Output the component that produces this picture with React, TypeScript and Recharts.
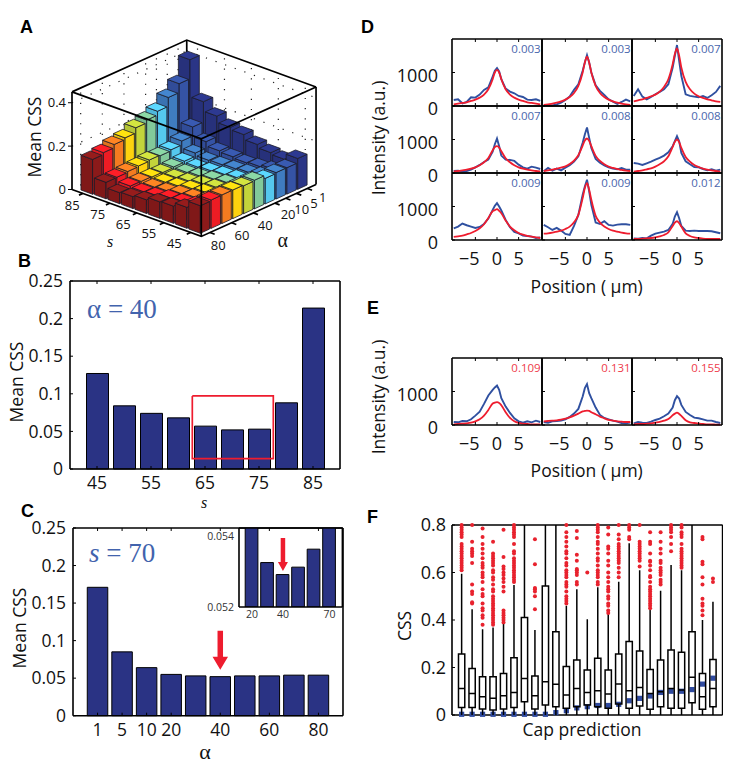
import {
  Bar,
  BarChart,
  Line,
  LineChart,
  ReferenceDot,
  Scatter,
  ScatterChart,
  XAxis,
  YAxis,
} from 'recharts';

const FONT = '"Open Sans", sans-serif';
const SERIF = '"Liberation Serif", serif';
const NAVY = '#2a3384';
const BLUE = '#2f50a0';
const RED = '#ee1c2e';

// panel A, rows are s, columns follow alphaValues
const sValues = [45, 50, 55, 60, 65, 70, 75, 80, 85];
const alphaValues = [1, 5, 10, 20, 30, 40, 50, 60, 70, 80];
const alphaColors = ['#2a3586', '#3553a5', '#3f7cc0', '#55c8ee', '#82c99a', '#c3d43b', '#fdd20e', '#f47b20', '#ed1c24', '#8b1a1a'];
const css45 = [0.14, 0.12, 0.12, 0.116, 0.13, 0.127, 0.13, 0.13, 0.129, 0.125];
const css50 = [0.114, 0.09, 0.085, 0.085, 0.084, 0.084, 0.084, 0.085, 0.085, 0.095];
const css55 = [0.122, 0.08, 0.075, 0.072, 0.073, 0.074, 0.074, 0.074, 0.075, 0.078];
const css60 = [0.137, 0.075, 0.07, 0.066, 0.067, 0.068, 0.068, 0.068, 0.07, 0.075];
const css65 = [0.16, 0.08, 0.066, 0.06, 0.058, 0.057, 0.057, 0.057, 0.058, 0.062];
const css70 = [0.171, 0.085, 0.064, 0.055, 0.053, 0.052, 0.053, 0.053, 0.054, 0.054];
const css75 = [0.2, 0.105, 0.075, 0.06, 0.056, 0.053, 0.055, 0.057, 0.058, 0.05];
const css80 = [0.244, 0.15, 0.108, 0.09, 0.085, 0.088, 0.083, 0.08, 0.076, 0.075];
const css85 = [0.415, 0.327, 0.286, 0.245, 0.227, 0.214, 0.19, 0.182, 0.167, 0.158];
const cssRows = [css45, css50, css55, css60, css65, css70, css75, css80, css85];

// panel B
const alpha40Css = [0.127, 0.084, 0.074, 0.068, 0.057, 0.052, 0.053, 0.088, 0.214];
const boxS = [62.65, 77.65, 77.65, 62.65, 62.65];
const boxCss = [0.0972, 0.0972, 0.0137, 0.0137, 0.0972];

// panel C and its inset
const s70Css = [0.171, 0.085, 0.064, 0.055, 0.053, 0.052, 0.053, 0.053, 0.054, 0.054];
const insetAlpha = [20, 30, 40, 50, 60, 70];
const insetCss = [0.0546, 0.05326, 0.05292, 0.05313, 0.05364, 0.0546];

// panels D and E
const positions = [-10, -9, -8, -7, -6, -5, -4, -3, -2, -1, -0.5, 0, 0.5, 1, 2, 3, 4, 5, 6, 7, 8, 9, 10];
const d1Blue = [180, 200, 80, 120, 260, 250, 340, 480, 560, 880, 1050, 1130, 1030, 800, 520, 430, 380, 300, 270, 190, 180, 200, 150];
const d1Red = [50, 70, 90, 110, 150, 190, 250, 340, 500, 800, 1000, 1080, 1000, 800, 500, 340, 250, 190, 150, 110, 90, 70, 50];
const d2Blue = [20, 20, 20, 50, 100, 180, 280, 480, 650, 1050, 1300, 1520, 1300, 1000, 620, 450, 330, 200, 130, 60, 120, 190, 140];
const d2Red = [30, 50, 70, 100, 140, 190, 270, 390, 600, 1000, 1300, 1470, 1300, 1000, 600, 390, 270, 190, 140, 100, 70, 50, 30];
const d3Blue = [300, 500, 280, 200, 270, 350, 420, 500, 650, 1150, 1500, 1820, 1350, 900, 350, 300, 280, 260, 300, 240, 320, 420, 600];
const d3Red = [140, 170, 200, 240, 290, 340, 430, 570, 800, 1250, 1550, 1720, 1500, 1150, 720, 500, 370, 290, 240, 200, 170, 140, 120];
const d4Blue = [60, 70, 50, 60, 100, 170, 240, 330, 400, 640, 860, 1030, 800, 520, 400, 390, 360, 250, 170, 130, 190, 160, 120];
const d4Red = [50, 60, 80, 100, 130, 170, 230, 320, 450, 680, 770, 800, 760, 650, 440, 320, 230, 170, 130, 100, 80, 60, 50];
const d5Blue = [50, 150, 70, 130, 80, 160, 230, 340, 500, 900, 1150, 1360, 1050, 750, 420, 310, 230, 170, 130, 110, 150, 100, 100];
const d5Red = [60, 80, 100, 130, 160, 200, 270, 370, 530, 820, 970, 1030, 960, 800, 510, 360, 260, 190, 150, 120, 90, 70, 60];
const d6Blue = [300, 280, 240, 290, 340, 400, 450, 520, 620, 800, 950, 1100, 950, 600, 350, 260, 180, 170, 120, 80, 110, 70, 100];
const d6Red = [40, 60, 80, 110, 140, 190, 260, 350, 500, 780, 930, 1000, 920, 750, 480, 340, 240, 180, 130, 100, 80, 60, 40];
const d7Blue = [350, 400, 490, 440, 400, 360, 390, 480, 640, 900, 1020, 1100, 1000, 880, 600, 380, 240, 200, 130, 120, 100, 60, 80];
const d7Red = [90, 110, 130, 170, 210, 270, 350, 470, 660, 860, 890, 920, 870, 800, 580, 400, 290, 210, 160, 120, 100, 80, 60];
const d8Blue = [450, 380, 300, 360, 280, 180, 150, 420, 750, 1350, 1600, 1800, 1450, 1050, 520, 480, 560, 450, 430, 460, 470, 470, 450];
const d8Red = [190, 200, 220, 250, 280, 330, 400, 530, 750, 1250, 1550, 1700, 1500, 1200, 720, 520, 400, 330, 280, 250, 220, 200, 190];
const d9Blue = [50, 40, 60, 50, 130, 190, 220, 250, 300, 480, 700, 830, 650, 420, 280, 270, 280, 270, 270, 270, 260, 230, 200];
const d9Red = [30, 30, 40, 50, 60, 80, 110, 150, 230, 420, 520, 560, 500, 400, 200, 120, 80, 60, 40, 30, 30, 30, 30];
const e1Blue = [90, 80, 120, 110, 170, 280, 400, 630, 880, 1050, 1120, 1180, 1050, 800, 550, 360, 200, 110, 70, 110, 80, 130, 90];
const e1Red = [20, 30, 40, 50, 70, 110, 170, 280, 450, 640, 670, 680, 660, 590, 380, 210, 110, 60, 40, 30, 20, 20, 20];
const e2Blue = [90, 70, 110, 120, 130, 170, 240, 340, 480, 850, 1100, 1220, 950, 800, 520, 300, 210, 170, 130, 100, 60, 50, 70];
const e2Red = [110, 120, 130, 140, 160, 190, 230, 280, 340, 410, 420, 430, 420, 380, 320, 250, 200, 150, 130, 110, 100, 90, 90];
const e3Blue = [50, 90, 70, 60, 100, 150, 190, 260, 340, 520, 740, 860, 790, 600, 390, 300, 220, 200, 170, 130, 130, 90, 60];
const e3Red = [20, 30, 30, 40, 50, 70, 90, 130, 180, 290, 340, 370, 330, 270, 140, 80, 60, 40, 30, 20, 20, 10, 10];
const dBlue = [d1Blue, d2Blue, d3Blue, d4Blue, d5Blue, d6Blue, d7Blue, d8Blue, d9Blue];
const dRed = [d1Red, d2Red, d3Red, d4Red, d5Red, d6Red, d7Red, d8Red, d9Red];
const dScores = ['0.003', '0.003', '0.007', '0.007', '0.008', '0.008', '0.009', '0.009', '0.012'];
const eBlue = [e1Blue, e2Blue, e3Blue];
const eRed = [e1Red, e2Red, e3Red];
const eScores = ['0.109', '0.131', '0.155'];

// panel F, one entry per box
const boxQ1 = [0.032, 0.032, 0.025, 0.021, 0.025, 0.032, 0.056, 0.025, 0.042, 0.035, 0.028, 0.035, 0.042, 0.035, 0.028, 0.046, 0.028, 0.038, 0.024, 0.035, 0.028, 0.028, 0.052, 0.024, 0.035];
const boxMedian = [0.112, 0.091, 0.077, 0.07, 0.081, 0.095, 0.154, 0.081, 0.14, 0.129, 0.084, 0.112, 0.095, 0.102, 0.088, 0.13, 0.102, 0.116, 0.091, 0.098, 0.112, 0.105, 0.159, 0.077, 0.112];
const boxQ3 = [0.257, 0.196, 0.161, 0.161, 0.175, 0.241, 0.411, 0.164, 0.543, 0.351, 0.204, 0.232, 0.189, 0.239, 0.189, 0.257, 0.309, 0.269, 0.192, 0.232, 0.274, 0.264, 0.351, 0.175, 0.234];
const boxWhisker = [0.595, 0.445, 0.361, 0.368, 0.383, 0.547, 0.8, 0.358, 0.8, 0.8, 0.46, 0.529, 0.403, 0.538, 0.425, 0.561, 0.723, 0.61, 0.442, 0.523, 0.632, 0.61, 0.8, 0.4, 0.477];
const capPrediction = [0.003, 0.003, 0.003, 0.003, 0.003, 0.003, 0.003, 0.003, 0.003, 0.01, 0.018, 0.03, 0.035, 0.04, 0.04, 0.045, 0.06, 0.07, 0.08, 0.095, 0.1, 0.1, 0.107, 0.13, 0.155];
const boxOutliers = [
  [0.61, 0.62, 0.63, 0.64, 0.65, 0.66, 0.67, 0.68, 0.69, 0.7, 0.71, 0.72, 0.75, 0.76, 0.77, 0.78, 0.79, 0.8],
  [0.8, 0.73, 0.7, 0.69, 0.68, 0.67, 0.64, 0.55, 0.52, 0.51, 0.475, 0.47],
  [0.785, 0.75, 0.72, 0.7, 0.68, 0.66, 0.64, 0.63, 0.62, 0.6, 0.59, 0.58, 0.56, 0.53, 0.51, 0.5, 0.47, 0.45, 0.44, 0.42, 0.41, 0.38],
  [0.73, 0.68, 0.67, 0.66, 0.65, 0.64, 0.63, 0.61, 0.6, 0.58, 0.57, 0.55, 0.53, 0.52, 0.5, 0.49, 0.48, 0.47, 0.46, 0.45, 0.44, 0.43, 0.42, 0.41, 0.4, 0.39, 0.38],
  [0.78, 0.665, 0.625, 0.615, 0.6, 0.59, 0.575, 0.56, 0.54, 0.52, 0.44, 0.43, 0.42, 0.41, 0.4, 0.39],
  [0.8, 0.79, 0.78, 0.77, 0.76, 0.75, 0.72, 0.69, 0.68, 0.66, 0.65, 0.64, 0.63, 0.62, 0.61, 0.6, 0.59, 0.58, 0.57, 0.56],
  [],
  [0.74, 0.635, 0.535, 0.53, 0.52, 0.5, 0.445],
  [],
  [],
  [0.8, 0.77, 0.75, 0.73, 0.71, 0.69, 0.68, 0.66, 0.64, 0.63, 0.61, 0.6, 0.59, 0.58, 0.56, 0.55, 0.54, 0.52, 0.5, 0.49, 0.48, 0.47],
  [0.775, 0.745, 0.675, 0.65, 0.615, 0.61, 0.6, 0.59, 0.56, 0.55],
  [0.6],
  [0.8, 0.79, 0.78, 0.77, 0.75, 0.73, 0.72, 0.7, 0.68, 0.66, 0.65, 0.63, 0.61, 0.6, 0.59, 0.58, 0.56, 0.55],
  [0.79, 0.76, 0.71, 0.7, 0.68, 0.65, 0.63, 0.6, 0.58, 0.56, 0.54, 0.53, 0.52, 0.5, 0.49, 0.47, 0.46, 0.44, 0.43],
  [0.8, 0.76, 0.74, 0.72, 0.71, 0.7, 0.69, 0.68, 0.67, 0.66, 0.65, 0.64, 0.62, 0.6, 0.58],
  [0.8, 0.79, 0.78, 0.75, 0.74],
  [0.8, 0.73, 0.72, 0.71, 0.7, 0.69, 0.68, 0.67, 0.66, 0.65, 0.625],
  [0.77, 0.73, 0.72, 0.68, 0.65, 0.645, 0.63, 0.61, 0.585, 0.58, 0.56, 0.54, 0.53, 0.52, 0.51, 0.5, 0.49, 0.48, 0.47, 0.46, 0.45],
  [0.77, 0.73, 0.7, 0.68, 0.65, 0.64, 0.62, 0.61, 0.6, 0.59, 0.57, 0.56, 0.55],
  [0.8, 0.79, 0.78, 0.77, 0.75, 0.72, 0.69],
  [0.8, 0.79, 0.77, 0.76, 0.75, 0.72, 0.7, 0.69, 0.68, 0.67, 0.66, 0.65, 0.64, 0.63, 0.62],
  [],
  [0.75, 0.74, 0.645, 0.635, 0.58, 0.55, 0.49, 0.47, 0.46, 0.44, 0.42],
  [0.575, 0.56],
];

const tickFont = (fontSize: number) => ({ fontSize, fontFamily: FONT, fill: '#111' });
const axisLine = { stroke: '#000', strokeWidth: 1.6 };
const tickLine = { stroke: '#000', strokeWidth: 1 };
const noLabel = () => '';

// oblique projection for panel A, x in pixels and y in CSS units
const PX_PER_CSS = 220;
const FLOOR_ZERO_Y = 191.7;
const project = (si: number, ai: number, h = 0) => {
  const floorY = 239.3 - 4.96 * (si + 0.8) - 4.96 * (ai + 0.8);
  return {
    x: 201 - 13.5 * (si + 0.8) + 10.85 * (ai + 0.8),
    y: (FLOOR_ZERO_Y - floorY) / PX_PER_CSS + h,
  };
};
const pixelPoint = (x: number, y: number, label: string) => ({ x, y: (FLOOR_ZERO_Y - y) / PX_PER_CSS, label });

const Blank = () => <g />;

function shade(hex: string, k: number) {
  const n = parseInt(hex.slice(1), 16);
  const ch = (v: number) => Math.min(255, Math.round(v * k));
  return `rgb(${ch((n >> 16) & 255)},${ch((n >> 8) & 255)},${ch(n & 255)})`;
}

function BarBox(props: any) {
  const { cx, cy, payload } = props;
  const f = 0.43;
  const a = [-13.5 * f, -4.96 * f];
  const b = [10.85 * f, -4.96 * f];
  const h = payload.css * PX_PER_CSS;
  const front = [cx - a[0] - b[0], cy - a[1] - b[1]];
  const left = [cx + a[0] - b[0], cy + a[1] - b[1]];
  const right = [cx - a[0] + b[0], cy - a[1] + b[1]];
  const back = [cx + a[0] + b[0], cy + a[1] + b[1]];
  const pts = (list: number[][]) => list.map((p) => p.join(',')).join(' ');
  const edge = { stroke: '#1c1c28', strokeWidth: 0.8, strokeLinejoin: 'round' as const };
  return (
    <g>
      <polygon
        points={pts([left, front, [front[0], front[1] + h], [left[0], left[1] + h]])}
        fill={shade(payload.color, 0.92)}
        {...edge}
      />
      <polygon
        points={pts([front, right, [right[0], right[1] + h], [front[0], front[1] + h]])}
        fill={payload.color}
        {...edge}
      />
      <polygon points={pts([left, front, right, back])} fill={shade(payload.color, 1.08)} {...edge} />
    </g>
  );
}

function Label3D(props: any) {
  const { cx, cy, payload } = props;
  return (
    <text x={cx} y={cy} textAnchor="middle" dominantBaseline="central" fontFamily={FONT} fontSize={13} fill="#111">
      {payload.label}
    </text>
  );
}

const barPoints: any[] = [];
for (let si = sValues.length - 1; si >= 0; si--) {
  for (let ai = 0; ai < alphaValues.length; ai++) {
    const css = cssRows[si][ai];
    const p = project(si, alphaValues.length - 1 - ai, css);
    barPoints.push({ ...p, css, color: alphaColors[ai] });
  }
}

const seg = (...points: { x: number; y: number }[]) => points;
const gridSegments = [
  ...[0, 2, 4, 6, 7, 8, 9].map((ai) => seg(project(8.8, ai), project(8.8, ai, 0.45))),
  ...[0, 2, 4, 6, 8].map((si) => seg(project(si, 9.8), project(si, 9.8, 0.45))),
  ...[0.2, 0.4].flatMap((h) => [
    seg(project(8.8, -0.8, h), project(8.8, 9.8, h)),
    seg(project(8.8, 9.8, h), project(-0.8, 9.8, h)),
  ]),
];
const backFrame = [
  seg(project(8.8, -0.8, 0.45), project(8.8, 9.8, 0.45), project(-0.8, 9.8, 0.45)),
  seg(project(8.8, 9.8, 0), project(8.8, 9.8, 0.45)),
  seg(project(8.8, -0.8, 0), project(8.8, -0.8, 0.45)),
  seg(project(-0.8, 9.8, 0), project(-0.8, 9.8, 0.45)),
];
const frontFrame = [
  seg(project(8.8, -0.8, 0.45), project(-0.8, -0.8, 0.45), project(-0.8, 9.8, 0.45)),
  seg(project(-0.8, -0.8, 0), project(-0.8, -0.8, 0.45)),
  seg(project(8.8, -0.8, 0), project(-0.8, -0.8, 0), project(-0.8, 9.8, 0)),
  ...[0, 2, 4, 6, 8].map((si) => seg(project(si, -0.8), project(si, -1.15))),
  ...[0, 2, 4, 6, 7, 8, 9].map((ai) => seg(project(-0.8, ai), project(-1.15, ai))),
];
const sLabels = [45, 55, 65, 75, 85].map((s, i) => pixelPoint(174 - 25.6 * i, 245.7 - 9.68 * i, String(s)));
const alphaLabels = [
  pixelPoint(218, 248, '80'),
  pixelPoint(241.7, 237.7, '60'),
  pixelPoint(265, 227.7, '40'),
  pixelPoint(288, 217, '20'),
  pixelPoint(301.7, 211.7, '10'),
  pixelPoint(314, 205, '5'),
  pixelPoint(322.7, 199, '1'),
];

function Panel3D() {
  const plain = { stroke: '#000', strokeWidth: 1.7 };
  return (
    <div style={{ position: 'absolute', left: 0, top: 0 }}>
      <ScatterChart width={331} height={260} margin={{ top: 35, right: 1, bottom: 15, left: 0 }}>
        <XAxis type="number" dataKey="x" domain={[72, 330]} hide />
        <YAxis
          type="number"
          dataKey="y"
          domain={[-0.2423, 0.7123]}
          ticks={[0, 0.2, 0.4]}
          width={72}
          axisLine={false}
          tickLine={tickLine}
          tickSize={4}
          tickMargin={2}
          tick={tickFont(13)}
        />
        {gridSegments.map((s, i) => (
          <Scatter key={`g${i}`} data={s} shape={Blank} line={{ stroke: '#222', strokeWidth: 1.2, strokeDasharray: '1.2 9' }} isAnimationActive={false} />
        ))}
        {backFrame.map((s, i) => (
          <Scatter key={`b${i}`} data={s} shape={Blank} line={plain} isAnimationActive={false} />
        ))}
        <Scatter data={barPoints} shape={BarBox} isAnimationActive={false} />
        {frontFrame.map((s, i) => (
          <Scatter key={`f${i}`} data={s} shape={Blank} line={plain} isAnimationActive={false} />
        ))}
        <Scatter data={sLabels} shape={Label3D} isAnimationActive={false} />
        <Scatter data={alphaLabels} shape={Label3D} isAnimationActive={false} />
      </ScatterChart>
    </div>
  );
}

// places a chart so that its plot area sits exactly on the given box
const TOP_PAD = 12;
const chartMargin = { top: TOP_PAD - 1, right: 0, bottom: 0, left: 0 };
const Placed = ({ left, top, pad, children }: any) => (
  <div style={{ position: 'absolute', left: left - pad, top: top - TOP_PAD }}>{children}</div>
);

function PanelB() {
  const data = sValues.map((s, i) => ({ s, css: alpha40Css[i] }));
  const box = boxS.map((x, i) => ({ x, y: boxCss[i] }));
  return (
    <>
      <Placed left={70} top={281} pad={45}>
        <BarChart width={45 + 270 + 1} height={TOP_PAD + 188 + 30} data={data} margin={chartMargin}>
          <XAxis type="number" dataKey="s" domain={[40, 90]} ticks={[45, 55, 65, 75, 85]} height={30} axisLine={axisLine} tickLine={tickLine} tickSize={-3} tickMargin={11} tick={tickFont(17.5)} />
          <XAxis xAxisId="top" orientation="top" type="number" dataKey="s" domain={[40, 90]} ticks={[45, 55, 65, 75, 85]} height={1} axisLine={axisLine} tickLine={tickLine} tickSize={-3} tickFormatter={noLabel} />
          <YAxis domain={[0, 0.25]} ticks={[0, 0.05, 0.1, 0.15, 0.2, 0.25]} width={45} axisLine={axisLine} tickLine={tickLine} tickSize={-3} tickMargin={10} tick={tickFont(17.5)} />
          <YAxis yAxisId="right" orientation="right" domain={[0, 0.25]} ticks={[0, 0.05, 0.1, 0.15, 0.2, 0.25]} width={1} axisLine={axisLine} tickLine={tickLine} tickSize={-3} tickFormatter={noLabel} />
          <Bar dataKey="css" fill={NAVY} stroke="#000" strokeWidth={1} barSize={22} isAnimationActive={false} />
        </BarChart>
      </Placed>
      {/* the red box has to lie over the bars, so it gets its own transparent chart */}
      <Placed left={70} top={281} pad={45}>
        <ScatterChart width={45 + 270 + 1} height={TOP_PAD + 188 + 30} margin={{ top: TOP_PAD, right: 1, bottom: 30, left: 45 }}>
          <XAxis type="number" dataKey="x" domain={[40, 90]} hide />
          <YAxis type="number" dataKey="y" domain={[0, 0.25]} hide />
          <Scatter data={box} shape={Blank} line={{ stroke: RED, strokeWidth: 1.7 }} isAnimationActive={false} />
        </ScatterChart>
      </Placed>
    </>
  );
}

const Arrow = (w: number, headW: number, headL: number, len: number) => (props: any) => {
  const { cx, cy } = props;
  const tip = cy;
  const p = [
    [cx - w / 2, tip - len],
    [cx + w / 2, tip - len],
    [cx + w / 2, tip - headL],
    [cx + headW / 2, tip - headL],
    [cx, tip],
    [cx - headW / 2, tip - headL],
    [cx - w / 2, tip - headL],
  ];
  return <polygon points={p.map((q) => q.join(',')).join(' ')} fill={RED} />;
};

function PanelC() {
  const data = alphaValues.map((alpha, i) => ({ alpha, css: s70Css[i] }));
  const ticks = [1, 5, 10, 20, 40, 60, 80];
  return (
    <Placed left={72.7} top={528.3} pad={45}>
      <BarChart width={45 + 270 + 1} height={TOP_PAD + 187.7 + 30} data={data} margin={chartMargin}>
        <XAxis dataKey="alpha" ticks={ticks} interval={0} padding={{ left: 12.27, right: 12.27 }} height={30} axisLine={axisLine} tickLine={tickLine} tickSize={-3} tickMargin={11} tick={tickFont(17.5)} />
        <XAxis xAxisId="top" orientation="top" dataKey="alpha" ticks={ticks} interval={0} padding={{ left: 12.27, right: 12.27 }} height={1} axisLine={axisLine} tickLine={tickLine} tickSize={-3} tickFormatter={noLabel} />
        <YAxis domain={[0, 0.25]} ticks={[0, 0.05, 0.1, 0.15, 0.2, 0.25]} width={45} axisLine={axisLine} tickLine={tickLine} tickSize={-3} tickMargin={10} tick={tickFont(17.5)} />
        <YAxis yAxisId="right" orientation="right" domain={[0, 0.25]} ticks={[0, 0.05, 0.1, 0.15, 0.2, 0.25]} width={1} axisLine={axisLine} tickLine={tickLine} tickSize={-3} tickFormatter={noLabel} />
        <Bar dataKey="css" fill={NAVY} stroke="#000" strokeWidth={1} barSize={20.5} isAnimationActive={false} />
        <ReferenceDot x={40} y={0.0613} shape={Arrow(5.5, 15.5, 13, 39)} />
      </BarChart>
    </Placed>
  );
}

function PanelCInset() {
  const data = insetAlpha.map((alpha, i) => ({ alpha, css: insetCss[i] }));
  return (
    <Placed left={239.3} top={528.3} pad={36}>
      <BarChart width={36 + 103.4 + 1} height={TOP_PAD + 79 + 20} data={data} margin={chartMargin}>
        <XAxis dataKey="alpha" ticks={[20, 40, 70]} interval={0} padding={{ left: 5.2, right: 5.2 }} height={20} axisLine={axisLine} tickLine={false} tickSize={0} tickMargin={4} tick={{ ...tickFont(10.5), fill: '#333' }} />
        <XAxis xAxisId="top" orientation="top" dataKey="alpha" ticks={[]} padding={{ left: 5.2, right: 5.2 }} height={1} axisLine={axisLine} tickLine={false} tickFormatter={noLabel} />
        <YAxis domain={[0.052, 0.05424]} allowDataOverflow ticks={[0.052, 0.054]} width={36} axisLine={axisLine} tickLine={false} tickSize={0} tickMargin={5} tick={{ ...tickFont(10.5), fill: '#333' }} />
        <YAxis yAxisId="right" orientation="right" domain={[0.052, 0.05424]} ticks={[]} width={1} axisLine={axisLine} tickLine={false} tickFormatter={noLabel} />
        <Bar dataKey="css" fill={NAVY} stroke="#000" strokeWidth={1} barSize={12.7} isAnimationActive={false} />
        <ReferenceDot x={40} y={0.05302} shape={Arrow(4.5, 10, 9, 33)} />
      </BarChart>
    </Placed>
  );
}

// tick text of the profile panels, the minus sign pushes -5 to the left in the reference
function ProfileXTick({ x, y, payload, show }: any) {
  if (!show) return <g />;
  const v = payload.value;
  return (
    <text x={v < 0 ? x - 6 : x} y={y + 3} dy="0.71em" textAnchor="middle" fontFamily={FONT} fontSize={18} fill="#111">
      {String(v).replace('-', '\u2212')}
    </text>
  );
}

function ProfileYTick({ x, y, payload, show }: any) {
  if (!show) return <g />;
  return (
    <text x={x} y={y + 3} dy="0.355em" textAnchor="end" fontFamily={FONT} fontSize={18} fill="#111">
      {payload.value}
    </text>
  );
}

function ProfilePanel({ left, top, blue, red, showY, showX }: any) {
  const data = positions.map((x, i) => ({ x, blue: blue[i], red: red[i] }));
  const xTicks = [-5, 0, 5];
  const yTicks = [0, 1000];
  return (
    <Placed left={left} top={top} pad={60}>
      <LineChart width={60 + 90 + 1} height={TOP_PAD + 67 + 30} data={data} margin={chartMargin}>
        <XAxis type="number" dataKey="x" domain={[-10.4, 10.4]} ticks={xTicks} height={30} axisLine={axisLine} tickLine={tickLine} tickSize={-3} tickMargin={12} tick={<ProfileXTick show={showX} />} />
        <XAxis xAxisId="top" orientation="top" type="number" dataKey="x" domain={[-10.4, 10.4]} ticks={xTicks} height={1} axisLine={axisLine} tickLine={tickLine} tickSize={-3} tickFormatter={noLabel} />
        <YAxis domain={[0, 2000]} ticks={yTicks} width={60} axisLine={axisLine} tickLine={tickLine} tickSize={-3} tickMargin={17} tick={<ProfileYTick show={showY} />} />
        <YAxis yAxisId="right" orientation="right" domain={[0, 2000]} ticks={yTicks} width={1} axisLine={axisLine} tickLine={tickLine} tickSize={-3} tickFormatter={noLabel} />
        <Line dataKey="blue" type="linear" stroke={BLUE} strokeWidth={1.9} dot={false} isAnimationActive={false} />
        <Line dataKey="red" type="monotone" stroke={RED} strokeWidth={1.8} dot={false} isAnimationActive={false} />
      </LineChart>
    </Placed>
  );
}

const Outlier = (props: any) => <circle cx={props.cx} cy={props.cy} r={2} fill="#e8222e" />;
const CapMark = (props: any) => <rect x={props.cx - 2.6} y={props.cy - 2.6} width={5.2} height={5.2} fill="#2f4a9f" />;

function PanelF() {
  const xs = boxQ1.map((_, i) => i + 1);
  const w = 0.3;
  const outlierPoints = boxOutliers.flatMap((list, i) => list.map((y) => ({ x: i + 1, y })));
  const capPoints = capPrediction.map((y, i) => ({ x: i + 1, y }));
  const yTicks = [0, 0.2, 0.4, 0.6, 0.8];
  const boxLine = { stroke: '#000', strokeWidth: 1.5 };
  return (
    <Placed left={451.7} top={525} pad={50}>
      <ScatterChart width={50 + 270.6 + 1} height={TOP_PAD + 190 + 20} margin={chartMargin}>
        <XAxis type="number" dataKey="x" domain={[0.08, 25.92]} ticks={[]} height={20} axisLine={axisLine} tickLine={false} tickFormatter={noLabel} />
        <XAxis xAxisId="top" orientation="top" type="number" dataKey="x" domain={[0.08, 25.92]} ticks={xs} height={1} axisLine={axisLine} tickLine={tickLine} tickSize={-3} tickFormatter={noLabel} />
        <YAxis type="number" dataKey="y" domain={[0, 0.8]} ticks={yTicks} width={50} axisLine={axisLine} tickLine={tickLine} tickSize={-3} tickMargin={9} tick={tickFont(18)} />
        <YAxis yAxisId="right" orientation="right" type="number" dataKey="y" domain={[0, 0.8]} ticks={yTicks} width={1} axisLine={axisLine} tickLine={tickLine} tickSize={-3} tickFormatter={noLabel} />
        <Scatter data={capPoints} shape={CapMark} isAnimationActive={false} />
        {xs.map((x, i) => (
          <Scatter
            key={x}
            shape={Blank}
            line={boxLine}
            isAnimationActive={false}
            data={[
              { x, y: 0 },
              { x, y: boxQ1[i] },
              { x: x - w, y: boxQ1[i] },
              { x: x - w, y: boxMedian[i] },
              { x: x + w, y: boxMedian[i] },
              { x: x + w, y: boxQ1[i] },
              { x, y: boxQ1[i] },
              { x: x + w, y: boxQ1[i] },
              { x: x + w, y: boxQ3[i] },
              { x, y: boxQ3[i] },
              { x, y: boxWhisker[i] },
              { x, y: boxQ3[i] },
              { x: x - w, y: boxQ3[i] },
              { x: x - w, y: boxMedian[i] },
            ]}
          />
        ))}
        <Scatter data={outlierPoints} shape={Outlier} isAnimationActive={false} />
      </ScatterChart>
    </Placed>
  );
}

const Letter = ({ x, y, children }: any) => (
  <text x={x} y={y} fontFamily='"Liberation Sans", sans-serif' fontWeight={700} fontSize={18} fill="#000">
    {children}
  </text>
);

const Title = ({ x, y, rotate, children, size = 17.5 }: any) => (
  <text
    x={x}
    y={y}
    textAnchor="middle"
    fontFamily={FONT}
    fontSize={size}
    fill="#111"
    transform={rotate ? `rotate(-90 ${x} ${y})` : undefined}
  >
    {children}
  </text>
);

const colX = [451.7, 541.7, 631.7];
const rowYD = [39, 105.7, 172.7];
const ROW_E = 357.7;

export default function App() {
  return (
    <div style={{ position: 'absolute', left: 0, top: 0, width: 750, height: 774, background: '#fff', overflow: 'hidden' }}>
      <Panel3D />
      <PanelB />
      <PanelC />
      <PanelCInset />
      {dBlue.map((blue, i) => (
        <ProfilePanel key={i} left={colX[i % 3]} top={rowYD[Math.floor(i / 3)]} blue={blue} red={dRed[i]} showY={i % 3 === 0} showX={i >= 6} />
      ))}
      {eBlue.map((blue, i) => (
        <ProfilePanel key={i} left={colX[i]} top={ROW_E} blue={blue} red={eRed[i]} showY={i === 0} showX />
      ))}
      <PanelF />
      <svg width={750} height={774} style={{ position: 'absolute', left: 0, top: 0, pointerEvents: 'none' }}>
        <Letter x={20} y={33}>A</Letter>
        <Letter x={18} y={267}>B</Letter>
        <Letter x={21} y={517}>C</Letter>
        <Letter x={361} y={33}>D</Letter>
        <Letter x={367} y={314}>E</Letter>
        <Letter x={367} y={523}>F</Letter>

        <Title x={41} y={137} rotate>Mean CSS</Title>
        <text x={110} y={247} textAnchor="middle" fontFamily={SERIF} fontStyle="italic" fontSize={16} fill="#111">s</text>
        <text x={282.7} y={247} textAnchor="middle" fontFamily={SERIF} fontSize={20} fill="#111">α</text>

        <Title x={23} y={382} rotate>Mean CSS</Title>
        <text x={204} y={508} textAnchor="middle" fontFamily={SERIF} fontStyle="italic" fontSize={16} fill="#111">s</text>
        <text x={87} y={318} fontFamily={SERIF} fontSize={27} fill="#4263ad">α = 40</text>

        <Title x={25.7} y={628} rotate>Mean CSS</Title>
        <text x={205} y={759} textAnchor="middle" fontFamily={SERIF} fontSize={22} fill="#111">α</text>
        <text x={89} y={562} fontFamily={SERIF} fontSize={27} fill="#4263ad">
          <tspan fontStyle="italic">s</tspan> = 70
        </text>

        <Title x={385} y={138} rotate>Intensity (a.u.)</Title>
        <Title x={586.7} y={293}>Position ( μm)</Title>
        <Title x={385} y={397} rotate>Intensity (a.u.)</Title>
        <Title x={586.7} y={477}>Position ( μm)</Title>
        <Title x={411} y={626} rotate>CSS</Title>
        <Title x={582} y={736}>Cap prediction</Title>

        {dScores.map((t, i) => (
          <text key={i} x={colX[i % 3] + 89} y={rowYD[Math.floor(i / 3)] + 14} textAnchor="end" fontFamily={FONT} fontSize={11.5} fill="#4a66ad">{t}</text>
        ))}
        {eScores.map((t, i) => (
          <text key={i} x={colX[i] + 89} y={ROW_E + 14} textAnchor="end" fontFamily={FONT} fontSize={11.5} fill="#ee3b4a">{t}</text>
        ))}
      </svg>
    </div>
  );
}
